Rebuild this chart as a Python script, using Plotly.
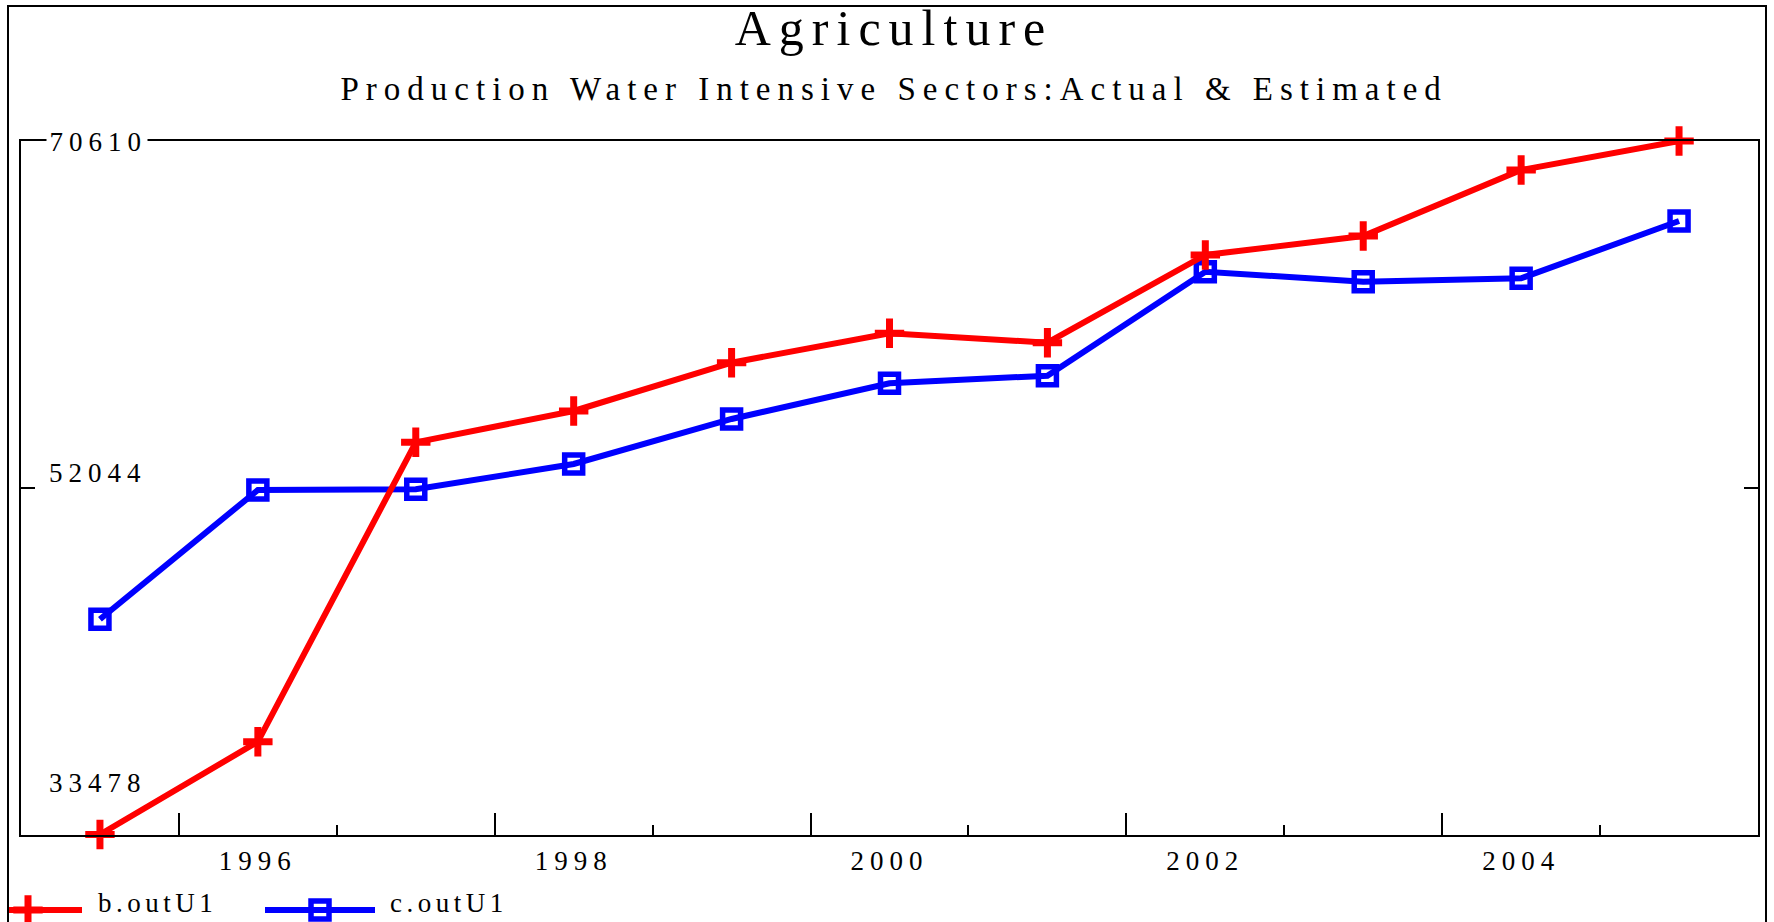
import json
import plotly.graph_objects as go

# ---------------- data ----------------
years = [1995, 1996, 1997, 1998, 1999, 2000, 2001, 2002, 2003, 2004, 2005]
actual = [33478, 38448, 54478, 56154, 58740, 60314, 59811, 64506, 65524, 69057, 70610]      # b.outU1
estimated = [45002, 51924, 51962, 53317, 55726, 57637, 58044, 63612, 63077, 63259, 66327]  # c.outU1
series_names = ["b.outU1", "c.outU1"]
y_tick_values = [70610, 52044, 33478]
x_label_years = [1996, 1998, 2000, 2002, 2004]
major_marks = [1995.5, 1997.5, 1999.5, 2001.5, 2003.5]
minor_marks = [1996.5, 1998.5, 2000.5, 2002.5, 2004.5]
title_text = "Agriculture"
subtitle_text = "Production Water Intensive Sectors:Actual & Estimated"

# ---------------- geometry / style ----------------
W, H = 1774, 922
L, R, T, B = 21, 1758, 141, 834.5
FONT = "Liberation Serif, Times New Roman, serif"
RED, BLUE = "#FF0000", "#0000FF"
LINE_W = 6
SQ = dict(symbol="square-open", size=18, lw=5.5)
CR = dict(symbol="cross-thin-open", size=21, lw=7)


def px(x):
    return x / W


def py(y):
    return 1 - y / H


fig = go.Figure()

fig.add_trace(go.Scatter(
    x=years, y=estimated, name=series_names[1], mode="lines+markers",
    line=dict(color=BLUE, width=LINE_W),
    marker=dict(symbol=SQ["symbol"], size=SQ["size"], color=BLUE,
                line=dict(width=SQ["lw"], color=BLUE)),
    cliponaxis=False, xaxis="x", yaxis="y", showlegend=False, hoverinfo="x+y"))
fig.add_trace(go.Scatter(
    x=years, y=actual, name=series_names[0], mode="lines+markers",
    line=dict(color=RED, width=LINE_W),
    marker=dict(symbol=CR["symbol"], size=CR["size"], color=RED,
                line=dict(width=CR["lw"], color=RED)),
    cliponaxis=False, xaxis="x2", yaxis="y", showlegend=False, hoverinfo="x+y"))

# custom legend glyphs (pixel overlay axes)
leg_items = [
    dict(name=series_names[0], color=RED, mk=CR, x0=8, x1=82, mx=28, tx=97),
    dict(name=series_names[1], color=BLUE, mk=SQ, x0=265, x1=375, mx=320, tx=389),
]
leg_y = 910
shapes = []
annotations = []
letter_spacing = []
for it in leg_items:
    shapes.append(dict(type="line", xref="paper", yref="paper",
                       x0=px(it["x0"]), x1=px(it["x1"]), y0=py(leg_y), y1=py(leg_y),
                       line=dict(color=it["color"], width=LINE_W), layer="below"))
    fig.add_trace(go.Scatter(
        x=[it["mx"]], y=[leg_y], mode="markers", xaxis="x3", yaxis="y3",
        marker=dict(symbol=it["mk"]["symbol"], size=it["mk"]["size"], color=it["color"],
                    line=dict(width=it["mk"]["lw"], color=it["color"])),
        cliponaxis=False, showlegend=False, hoverinfo="skip"))
    annotations.append(dict(text=it["name"], xref="paper", yref="paper",
                            x=px(it["tx"]), y=py(903), xanchor="left", yanchor="middle",
                            align="left", showarrow=False, borderpad=0,
                            font=dict(family=FONT, size=27, color="black")))
    letter_spacing.append("4.5px")

# outer frame
shapes.append(dict(type="rect", xref="paper", yref="paper",
                   x0=px(8), x1=px(1766), y0=py(940), y1=py(6),
                   line=dict(color="black", width=2), layer="above"))

# y-axis value labels
y_shifts = [-1.5, 14.7, 51.5]
for v, s in zip(y_tick_values, y_shifts):
    ann = dict(text=str(v), xref="paper", yref="y", x=px(148), y=v, yshift=s,
               xanchor="right", yanchor="middle", align="right", showarrow=False,
               borderpad=0, font=dict(family=FONT, size=27, color="black"))
    if v == max(y_tick_values):
        ann.update(bgcolor="white", width=100)
    annotations.append(ann)
    letter_spacing.append("6px")

# subtitle
annotations.append(dict(text=subtitle_text, xref="paper", yref="paper",
                        x=px(894), y=py(89), xanchor="center", yanchor="middle",
                        showarrow=False, borderpad=0,
                        font=dict(family=FONT, size=33, color="black")))
letter_spacing.append("7px")

axis_common = dict(showgrid=False, zeroline=False)

fig.update_layout(
    width=W, height=H, autosize=False,
    margin=dict(l=0, r=0, t=0, b=0, pad=0),
    paper_bgcolor="white", plot_bgcolor="rgba(0,0,0,0)",
    showlegend=False,
    title=dict(text=title_text, x=px(894), xanchor="center", y=py(27), yanchor="middle",
               font=dict(family=FONT, size=50, color="black")),
    xaxis=dict(domain=[px(L), px(R)], range=[1994.5, 2005.5], anchor="y",
               showline=True, linecolor="black", linewidth=2, mirror=True,
               ticks="inside", tickmode="array", tickvals=major_marks, ticklen=22,
               tickwidth=2, tickcolor="black", showticklabels=False,
               minor=dict(tickmode="array", tickvals=minor_marks, ticks="inside",
                          ticklen=10, tickwidth=2, tickcolor="black", showgrid=False),
               **axis_common),
    xaxis2=dict(overlaying="x", matches="x", anchor="y", side="bottom",
                tickmode="array", tickvals=x_label_years,
                ticktext=[str(y) for y in x_label_years], ticks="", showline=False,
                ticklabelstandoff=7,
                tickfont=dict(family=FONT, size=27, color="black"), **axis_common),
    yaxis=dict(domain=[py(B), py(T)], range=[min(y_tick_values), max(y_tick_values)],
               anchor="x", showline=True, linecolor="black", linewidth=2, mirror="ticks",
               ticks="inside", tickmode="array", tickvals=[y_tick_values[1]], ticklen=14,
               tickwidth=2, tickcolor="black", showticklabels=False, **axis_common),
    xaxis3=dict(domain=[0, 1], range=[0, W], anchor="y3", visible=False, fixedrange=True),
    yaxis3=dict(domain=[0, 1], range=[H, 0], anchor="x3", visible=False, fixedrange=True),
    shapes=shapes,
    annotations=annotations,
)

post = """
document.body.style.margin = '0';
document.body.style.overflow = 'hidden';
var gd = document.getElementById('{plot_id}');
var ls = %s;
gd.querySelectorAll('g.annotation').forEach(function(g){
  var i = parseInt(g.getAttribute('data-index'));
  var t = g.querySelector('text');
  if (t && ls[i]) { t.style.letterSpacing = ls[i]; }
});
gd.querySelectorAll('.gtitle').forEach(function(t){ t.style.letterSpacing = '8px'; });
gd.querySelectorAll('g.x2tick text').forEach(function(t){ t.style.letterSpacing = '6px'; });
""" % json.dumps(letter_spacing)

fig.write_html("out.html", post_script=post, config={"displayModeBar": False})
